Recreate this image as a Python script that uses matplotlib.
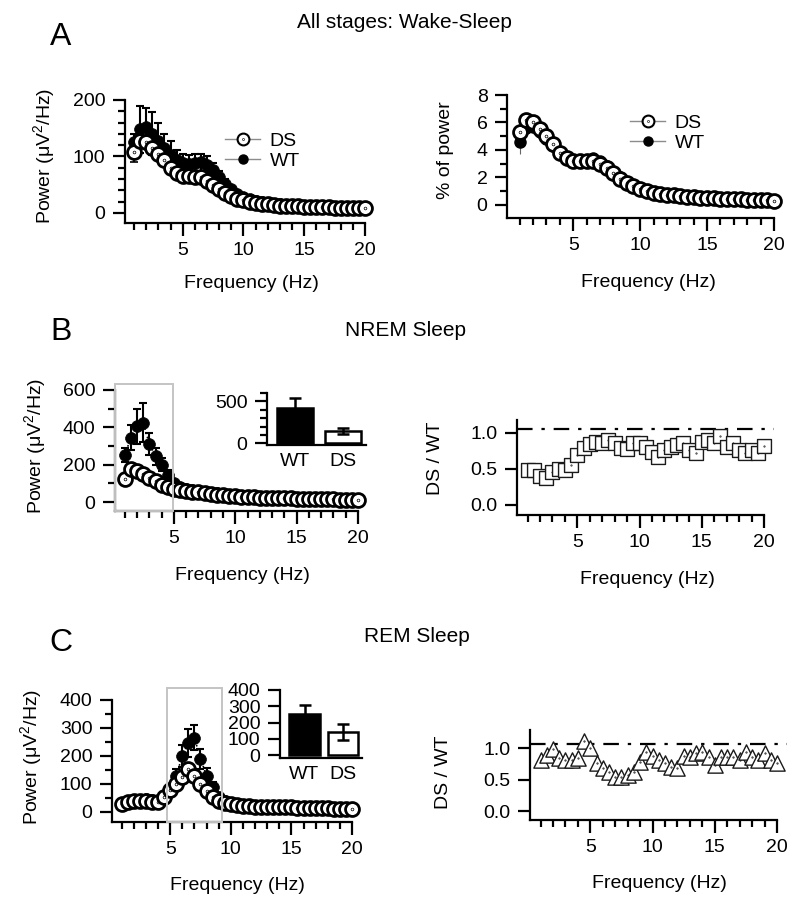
import numpy as np
import matplotlib
matplotlib.use("Agg")
import matplotlib.pyplot as plt
from matplotlib.path import Path
from matplotlib.lines import Line2D
from matplotlib.patches import Rectangle
from matplotlib.ticker import MultipleLocator, FormatStrFormatter

plt.rcParams['font.family'] = ['Liberation Sans', 'DejaVu Sans']
plt.rcParams['font.size'] = 14
plt.rcParams['mathtext.fontset'] = 'custom'
plt.rcParams['mathtext.rm'] = 'Liberation Sans'
plt.rcParams['mathtext.it'] = 'Liberation Sans:italic'

W, H = 800, 908

# --- data ---
freq = np.arange(1.0, 20.5, 0.5)

# A: all stages, absolute power
all_ds = [108, 128, 125, 115, 105, 93, 80, 70, 66, 65, 64, 63, 57, 50, 42, 35, 29, 25, 22, 20,
          18, 16, 15, 14, 13, 12.5, 12, 11.5, 11, 10.5, 10, 10, 9.5, 9, 9, 8.5, 8.5, 8, 8]
all_ds_err = [18, 12, 10, 9, 8, 7, 6, 6, 5, 5, 5, 5, 5, 4, 4, 3, 3, 3, 2, 2,
              2, 2, 2, 2, 2, 2, 2, 2, 2, 2, 2, 2, 2, 2, 2, 2, 2, 2, 2]
all_wt = [125, 148, 152, 140, 128, 115, 102, 93, 88, 86, 88, 90, 85, 76, 64, 52, 42, 34, 28, 24,
          21, 19, 17, 16, 15, 14, 13, 12.5, 12, 11.5, 11, 11, 10.5, 10, 10, 9.5, 9.5, 9, 9]
all_wt_err = [15, 42, 33, 38, 32, 25, 26, 19, 17, 17, 17, 15, 15, 12, 10, 8, 6, 5, 4, 3,
              3, 3, 2, 2, 2, 2, 2, 2, 2, 2, 2, 2, 2, 2, 2, 2, 2, 2, 2]

# A: all stages, relative power
pct_ds = [5.3, 6.2, 6.0, 5.5, 5.0, 4.4, 3.8, 3.4, 3.2, 3.2, 3.2, 3.2, 3.0, 2.7, 2.3, 1.9, 1.6, 1.35, 1.15, 1.0,
          0.9, 0.82, 0.75, 0.7, 0.65, 0.6, 0.57, 0.54, 0.5, 0.48, 0.46, 0.44, 0.42, 0.4, 0.38, 0.36, 0.35, 0.33, 0.32]
pct_wt = [4.6, 5.6, 5.7, 5.3, 4.8, 4.3, 3.7, 3.35, 3.2, 3.2, 3.3, 3.4, 3.2, 2.8, 2.4, 2.0, 1.65, 1.4, 1.2, 1.05,
          0.93, 0.85, 0.78, 0.72, 0.67, 0.62, 0.59, 0.55, 0.52, 0.49, 0.47, 0.45, 0.43, 0.41, 0.39, 0.37, 0.36, 0.34, 0.33]
pct_wt_err = [0.9, 0.5, 0.4, 0.3, 0.3, 0.2, 0.2, 0.2, 0.15, 0.15, 0.15, 0.15, 0.15, 0.1, 0.1, 0.1, 0.1, 0.1, 0.05, 0.05,
              0.05, 0.05, 0.05, 0.05, 0.05, 0.05, 0.05, 0.05, 0.05, 0.05, 0.05, 0.05, 0.05, 0.05, 0.05, 0.05, 0.05, 0.05, 0.05]

# B: NREM
nrem_ds = [125, 175, 165, 148, 128, 110, 93, 80, 70, 65, 60, 56, 52, 48, 44, 40, 36, 33, 30, 28,
           26, 25, 24, 23, 22, 21, 20, 19, 18, 17, 16.5, 16, 15, 14.5, 14, 13.5, 13, 12.5, 12]
nrem_ds_err = [15, 20, 18, 15, 12, 10, 8, 7, 6, 5, 5, 4, 4, 4, 3, 3, 3, 3, 2, 2,
               2, 2, 2, 2, 2, 2, 2, 2, 2, 2, 2, 2, 2, 2, 2, 2, 2, 2, 2]
nrem_wt = [252, 345, 405, 425, 310, 245, 200, 145, 100, 82, 72, 65, 60, 54, 50, 46, 42, 38, 35, 32,
           30, 28, 27, 26, 25, 24, 23, 22, 21, 20, 19, 18.5, 18, 17, 16.5, 16, 15, 14.5, 14]
nrem_wt_err = [40, 65, 95, 105, 60, 45, 35, 28, 18, 12, 9, 7, 6, 5, 5, 4, 4, 3, 3, 3,
               3, 2, 2, 2, 2, 2, 2, 2, 2, 2, 2, 2, 2, 2, 2, 2, 2, 2, 2]
nrem_ratio = [0.49, 0.48, 0.40, 0.38, 0.46, 0.50, 0.48, 0.55, 0.70, 0.79, 0.84, 0.87, 0.86, 0.90, 0.86, 0.79, 0.78, 0.86, 0.86, 0.80,
              0.74, 0.67, 0.76, 0.80, 0.83, 0.86, 0.76, 0.72, 0.87, 0.90, 0.86, 0.96, 0.80, 0.86, 0.76, 0.72, 0.76, 0.72, 0.82]
nrem_band = (0.2, 4.9, 632)          # grey box: Hz from, Hz to, top
nrem_bar = [420, 147]
nrem_bar_err = [118, 36]

# C: REM
rem_ds = [28, 36, 40, 40, 38, 35, 36, 55, 78, 100, 125, 155, 130, 100, 75, 55, 40, 32, 27, 24,
          22, 20, 19, 18, 18, 17, 17, 16, 16, 15, 15, 14, 14, 13, 13, 12, 12, 11, 10]
rem_ds_err = [4, 4, 4, 4, 4, 4, 4, 6, 8, 12, 15, 20, 18, 14, 10, 8, 5, 4, 3, 3,
              3, 2, 2, 2, 2, 2, 2, 2, 2, 2, 2, 2, 2, 2, 2, 2, 2, 2, 2]
rem_wt = [32, 40, 42, 44, 45, 42, 40, 50, 80, 130, 200, 245, 265, 190, 130, 88, 55, 38, 30, 27,
          25, 22, 21, 20, 19, 19, 18, 18, 17, 17, 16, 16, 15, 15, 14, 14, 13, 13, 12]
rem_wt_err = [5, 5, 5, 5, 5, 5, 5, 8, 15, 25, 40, 50, 45, 35, 28, 20, 10, 6, 4, 3,
              3, 3, 2, 2, 2, 2, 2, 2, 2, 2, 2, 2, 2, 2, 2, 2, 2, 2, 2]
rem_ratio = [0.81, 0.89, 0.99, 0.85, 0.81, 0.81, 0.84, 1.12, 1.00, 0.76, 0.68, 0.62, 0.55, 0.54, 0.58, 0.62, 0.78, 0.94, 0.88, 0.82,
             0.77, 0.70, 0.68, 0.88, 0.86, 0.92, 0.94, 0.86, 0.74, 0.86, 0.86, 0.86, 0.81, 0.94, 0.86, 0.81, 0.92, 0.82, 0.76]
rem_band = (4.7, 9.3, 443)
rem_bar = [255, 140]
rem_bar_err = [50, 50]

groups = ['WT', 'DS']
ratio_ref = 1.06
power_label = 'Power (\u03bcV$^2$/Hz)'


def dotted(base):
    # Igor-like marker: outline with a small dot in the middle
    return Path.make_compound_path(base, Path.circle((0, 0), 0.05))


CIRCLE_DOT = dotted(Path.unit_circle())
SQUARE_DOT = dotted(Path([(-1, -1), (1, -1), (1, 1), (-1, 1), (-1, -1)],
                         [Path.MOVETO, Path.LINETO, Path.LINETO, Path.LINETO, Path.CLOSEPOLY]))
TRIANGLE_DOT = dotted(Path([(0, 1), (-1, -1), (1, -1), (0, 1)],
                           [Path.MOVETO, Path.LINETO, Path.LINETO, Path.CLOSEPOLY]))


def px_axes(fig, left, right, top, bottom):
    return fig.add_axes([left / W, 1 - bottom / H, (right - left) / W, (bottom - top) / H])


def igor_style(ax):
    for s in ('top', 'right'):
        ax.spines[s].set_visible(False)
    for s in ('left', 'bottom'):
        ax.spines[s].set_linewidth(1.6)
    ax.tick_params(which='major', direction='out', length=9, width=1.6, pad=5, labelsize=14)
    ax.tick_params(which='minor', direction='out', length=5, width=1.6)
    ax.patch.set_alpha(0)


def freq_axis(ax, xmin):
    ax.set_xlim(xmin, 20)
    ax.xaxis.set_major_locator(MultipleLocator(5))
    ax.xaxis.set_minor_locator(MultipleLocator(1))


def to_axes(ax, cx, cy):
    pos = ax.get_position()
    return (cx / W - pos.x0) / pos.width, ((1 - cy / H) - pos.y0) / pos.height


def put_labels(ax, xlabel, xc, ylabel, yc):
    ax.set_xlabel(xlabel, va='center')
    ax.xaxis.set_label_coords(*to_axes(ax, *xc))
    ax.set_ylabel(ylabel, va='center')
    ax.yaxis.set_label_coords(*to_axes(ax, *yc))


def power_panel(ax, ds, ds_err, wt, wt_err):
    ax.errorbar(freq, wt, yerr=wt_err, fmt='none', ecolor='black', elinewidth=1.5,
                capsize=3, capthick=1.5, zorder=1, clip_on=False)
    ax.errorbar(freq, ds, yerr=ds_err, fmt='none', ecolor='black', elinewidth=1.2,
                capsize=3, capthick=1.2, zorder=1, clip_on=False)
    ax.plot(freq, wt, ls=':', lw=1.2, color='black', marker='o', ms=8.5,
            mfc='black', mec='black', mew=0.5, zorder=3, clip_on=False)
    # DS drawn last, so it sits on top where the two curves meet
    ax.plot(freq, ds, ls='none', marker=CIRCLE_DOT, ms=10, mfc='white',
            mec='black', mew=2, zorder=4, clip_on=False)


def ratio_panel(ax, ratio, marker, ms):
    ax.plot(freq, ratio, ls='none', marker=marker, ms=ms, mfc='white',
            mec='0.1', mew=1.0, clip_on=False, zorder=3)
    ax.axhline(ratio_ref, xmin=0, xmax=1.04, color='black', lw=1.6,
               ls=(0, (7, 4, 1.5, 4)), clip_on=False)
    ax.yaxis.set_major_locator(MultipleLocator(0.5))
    ax.yaxis.set_major_formatter(FormatStrFormatter('%.1f'))


def bar_inset(ax, means, errs, width):
    ax.bar([0, 1], means, width, color=['black', 'white'], edgecolor='black', linewidth=1.8,
           yerr=errs, capsize=4, error_kw=dict(elinewidth=1.8, capthick=1.8, ecolor='black'))
    ax.set_xticks([0, 1])
    ax.set_xticklabels(groups)
    ax.tick_params(axis='x', length=0, pad=6)


def legend(ax, left_px, cy_px):
    handles = [Line2D([], [], color='0.55', lw=1, marker=CIRCLE_DOT, ms=8.5, mfc='white', mec='black', mew=1.5),
               Line2D([], [], color='0.55', lw=1, marker='o', ms=6.5, mfc='black', mec='black')]
    ax.legend(handles, ['DS', 'WT'], loc='center left', bbox_to_anchor=to_axes(ax, left_px, cy_px),
              frameon=False, handlelength=1.8, handletextpad=0.5, labelspacing=0.15,
              borderpad=0, borderaxespad=0, fontsize=14)


fig = plt.figure(figsize=(8, 9.08), dpi=100)

# --- titles and panel letters ---
fig.text(404 / W, 1 - 23 / H, 'All stages: Wake-Sleep', fontsize=15, ha='center', va='center')
fig.text(406 / W, 1 - 331 / H, 'NREM Sleep', fontsize=15, ha='center', va='center')
fig.text(417 / W, 1 - 637 / H, 'REM Sleep', fontsize=15, ha='center', va='center')
for letter, y in [('A', 37), ('B', 332), ('C', 643)]:
    fig.text(61 / W, 1 - y / H, letter, fontsize=23, ha='center', va='center')

# --- A left: absolute power ---
ax = px_axes(fig, 125, 365, 100, 223)
igor_style(ax)
power_panel(ax, all_ds, all_ds_err, all_wt, all_wt_err)
freq_axis(ax, 0.25)
ax.set_ylim(-18, 200)
ax.yaxis.set_major_locator(MultipleLocator(100))
ax.yaxis.set_minor_locator(MultipleLocator(20))
put_labels(ax, 'Frequency (Hz)', (251, 283), power_label, (44, 156))
legend(ax, 225, 151)

# --- A right: % of power ---
ax = px_axes(fig, 507, 774, 95, 218)
igor_style(ax)
ax.errorbar(freq, pct_wt, yerr=pct_wt_err, fmt='none', ecolor='0.4', elinewidth=0.8, zorder=1)
ax.plot(freq, pct_wt, ls='none', marker='o', ms=8, mfc='black', mec='black', zorder=2, clip_on=False)
ax.plot(freq, pct_ds, ls='none', marker=CIRCLE_DOT, ms=10, mfc='white', mec='black', mew=2,
        zorder=3, clip_on=False)
freq_axis(ax, 0.05)
ax.set_ylim(-0.95, 8)
ax.yaxis.set_major_locator(MultipleLocator(2))
ax.yaxis.set_minor_locator(MultipleLocator(1))
put_labels(ax, 'Frequency (Hz)', (648, 282), '% of power', (445, 150))
legend(ax, 630, 133)

# --- B left: NREM power ---
ax = px_axes(fig, 115, 358, 390, 511)
igor_style(ax)
power_panel(ax, nrem_ds, nrem_ds_err, nrem_wt, nrem_wt_err)
freq_axis(ax, 0.2)
ax.set_ylim(-48, 600)
ax.yaxis.set_major_locator(MultipleLocator(200))
ax.yaxis.set_minor_locator(MultipleLocator(100))
ax.add_patch(Rectangle((nrem_band[0], -48), nrem_band[1] - nrem_band[0], nrem_band[2] + 48,
                       fill=False, edgecolor='#c4c4c4', lw=1.4, zorder=5, clip_on=False))
put_labels(ax, 'Frequency (Hz)', (242, 575), power_label, (35, 446))

ax = px_axes(fig, 267, 366, 393, 445)
igor_style(ax)
bar_inset(ax, nrem_bar, nrem_bar_err, 0.75)
ax.set_xlim(-0.58, 1.48)
ax.set_ylim(-20, 600)
ax.yaxis.set_major_locator(MultipleLocator(500))
ax.yaxis.set_minor_locator(MultipleLocator(100))

# --- B right: NREM ratio ---
ax = px_axes(fig, 517, 764, 420, 515)
igor_style(ax)
ratio_panel(ax, nrem_ratio, SQUARE_DOT, 10)
ax.set_ylim(-0.14, 1.18)
freq_axis(ax, 0.15)
put_labels(ax, 'Frequency (Hz)', (647, 579), 'DS / WT', (435, 458))

# --- C left: REM power ---
ax = px_axes(fig, 112, 352, 700, 822)
igor_style(ax)
power_panel(ax, rem_ds, rem_ds_err, rem_wt, rem_wt_err)
freq_axis(ax, 0.2)
ax.set_ylim(-36, 400)
ax.yaxis.set_major_locator(MultipleLocator(100))
ax.yaxis.set_minor_locator(MultipleLocator(50))
ax.add_patch(Rectangle((rem_band[0], -36), rem_band[1] - rem_band[0], rem_band[2] + 36,
                       fill=False, edgecolor='#c4c4c4', lw=1.4, zorder=5, clip_on=False))
put_labels(ax, 'Frequency (Hz)', (237, 885), power_label, (31, 757))

ax = px_axes(fig, 280, 362, 690, 758)
igor_style(ax)
bar_inset(ax, rem_bar, rem_bar_err, 0.8)
ax.set_xlim(-0.64, 1.5)
ax.set_ylim(-18, 400)
ax.yaxis.set_major_locator(MultipleLocator(100))

# --- C right: REM ratio ---
ax = px_axes(fig, 530, 777, 730, 820)
igor_style(ax)
ratio_panel(ax, rem_ratio, TRIANGLE_DOT, 11)
ax.set_ylim(-0.14, 1.29)
freq_axis(ax, 0.15)
put_labels(ax, 'Frequency (Hz)', (659, 884), 'DS / WT', (443, 772))

fig.savefig('out.png', dpi=100)
